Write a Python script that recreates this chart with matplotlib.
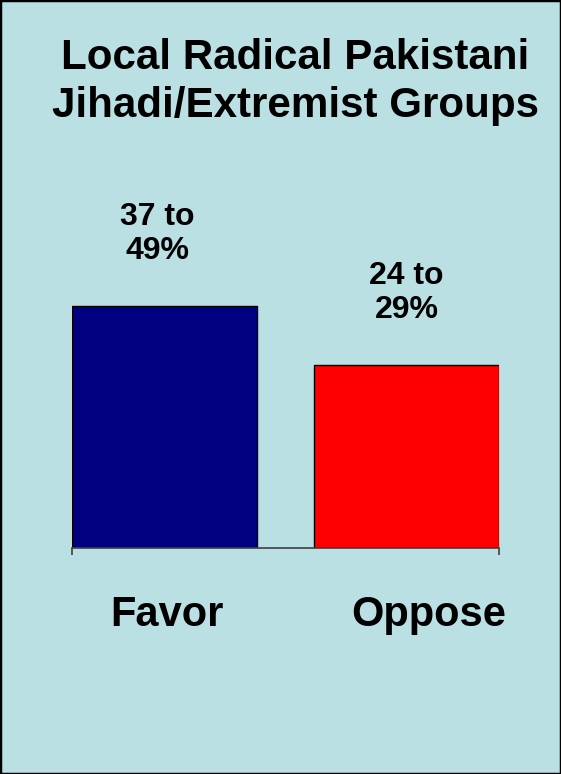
import matplotlib
matplotlib.use("Agg")
import matplotlib.pyplot as plt
from matplotlib.patches import Rectangle
import matplotlib.transforms as mtransforms

categories = ["Favor", "Oppose"]
values = [49, 37]
value_labels = ["37 to\n49%", "24 to\n29%"]
colors = ["#000080", "#FF0000"]
title = "Local Radical Pakistani\nJihadi/Extremist Groups"

plt.rcParams['font.family'] = ['Liberation Sans', 'DejaVu Sans']
BG = "#BAE0E4"

W, H = 561, 774
fig = plt.figure(figsize=(W / 100, H / 100), dpi=100, facecolor=BG)
fig.patches.append(Rectangle((0, 0), 1, 1, transform=fig.transFigure,
                             fill=False, edgecolor="black", linewidth=2.5))

ax = fig.add_axes([72 / W, (H - 548) / H, 427 / W, 248 / H])
ax.set_facecolor(BG)
ax.patch.set_alpha(0)

w = 0.7645
x = list(range(len(categories)))
ax.bar(x, values, width=w, color=colors, edgecolor="black", linewidth=1)
ax.set_xlim(-w / 2, len(categories) - 1 + w / 2)
ax.set_ylim(0, 50.2)

for s in ["top", "left", "right"]:
    ax.spines[s].set_visible(False)
ax.spines["bottom"].set_color("#404040")
ax.spines["bottom"].set_linewidth(1.2)
ax.set_yticks([])
ax.set_xticks(x)
ax.set_xticklabels(categories, fontsize=30, fontweight="bold")
ax.tick_params(axis="x", which="major", length=0, pad=34)
ax.set_xticks([-w / 2, len(categories) - 1 + w / 2], minor=True)
ax.tick_params(axis="x", which="minor", length=5, width=1.2, color="#404040", direction="out")

# nudge category labels as in reference
offsets_px = [2, 22]
for lbl, dx in zip(ax.get_xticklabels(), offsets_px):
    lbl.set_transform(lbl.get_transform() + mtransforms.Affine2D().translate(dx, 0))

label_dx = [-7, 0]
for xi, v, t, dx in zip(x, values, value_labels, label_dx):
    ax.annotate(t, xy=(xi, v), xytext=(dx * 0.72, 29), textcoords="offset points",
                ha="center", va="bottom", fontsize=23, fontweight="bold",
                linespacing=1.17, annotation_clip=False)

fig.text(295 / W, 1 - 38 / H, title, ha="center", va="top", fontsize=30.3,
         fontweight="bold", linespacing=1.25)

fig.savefig("out.png", dpi=100, facecolor=BG)
